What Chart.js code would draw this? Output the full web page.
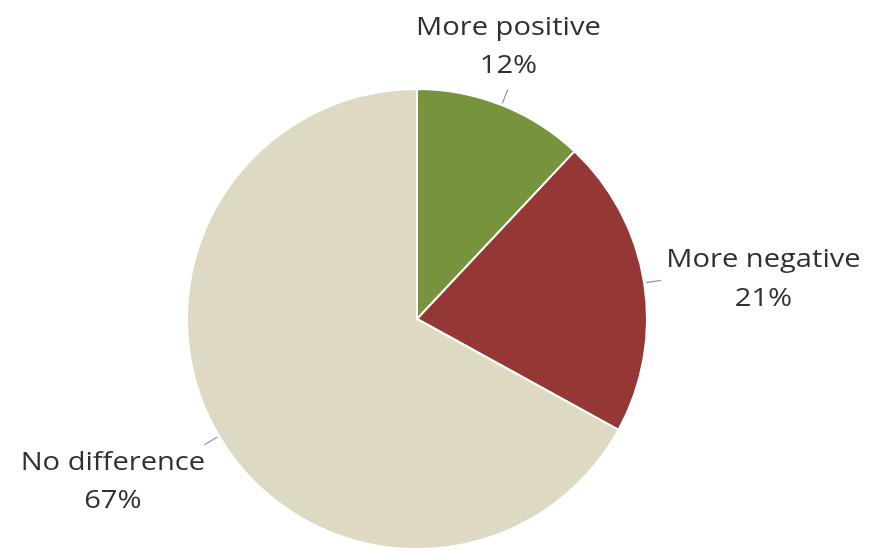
<!DOCTYPE html>
<html>
<head>
<meta charset="utf-8">
<script src="https://cdn.jsdelivr.net/npm/chart.js@4"></script>
<style>
html,body{margin:0;padding:0;background:#fff;}
#wrap{width:875px;height:551px;position:relative;}
</style>
</head>
<body>
<div id="wrap"><canvas id="c" width="875" height="551"></canvas></div>
<script>
const categories = ["More positive", "More negative", "No difference"];
const values = [12, 21, 67];
const pctLabels = ["12%", "21%", "67%"];
const colors = ["#77933C", "#953735", "#DDD9C3"];

const labelPlugin = {
  id: 'pieLabels',
  afterDatasetsDraw(chart, args, opts) {
    const ctx = chart.ctx;
    const meta = chart.getDatasetMeta(0);
    meta.data.forEach((arc, i) => {
      const mid = (arc.startAngle + arc.endAngle) / 2;
      const r = arc.outerRadius;
      const cx = arc.x, cy = arc.y;
      const x1 = cx + Math.cos(mid) * (r + 2), y1 = cy + Math.sin(mid) * (r + 2);
      const x2 = cx + Math.cos(mid) * (r + 17), y2 = cy + Math.sin(mid) * (r + 17);
      ctx.save();
      ctx.strokeStyle = opts.lineColor;
      ctx.lineWidth = 1.2;
      ctx.beginPath(); ctx.moveTo(x1, y1); ctx.lineTo(x2, y2); ctx.stroke();
      const off = opts.offsets[i];
      const tx = x2 + off[0], ty = y2 + off[1];
      ctx.fillStyle = opts.color;
      ctx.font = opts.font;
      ctx.textAlign = 'center';
      ctx.textBaseline = 'alphabetic';
      ctx.translate(tx, ty);
      ctx.scale(opts.scaleX, 1);
      ctx.fillText(chart.data.labels[i], 0, 0);
      ctx.fillText(pctLabels[i], 0, opts.lineGap);
      ctx.restore();
    });
  }
};

new Chart(document.getElementById('c'), {
  type: 'pie',
  data: {
    labels: categories,
    datasets: [{
      data: values,
      backgroundColor: colors,
      borderColor: '#ffffff',
      borderWidth: 2,
      hoverOffset: 0
    }]
  },
  options: {
    responsive: false,
    animation: false,
    layout: { padding: { top: 88, bottom: 1, left: 186, right: 227 } },
    plugins: {
      legend: { display: false },
      tooltip: { enabled: false },
      pieLabels: {
        font: '26px "Open Sans"',
        scaleX: 1.12,
        color: '#303030',
        lineColor: '#8f93a8',
        lineGap: 38.5,
        offsets: [[0.5, -54.7], [102.5, -13], [-91.5, 25]]
      }
    }
  },
  plugins: [labelPlugin]
});
</script>
</body>
</html>
